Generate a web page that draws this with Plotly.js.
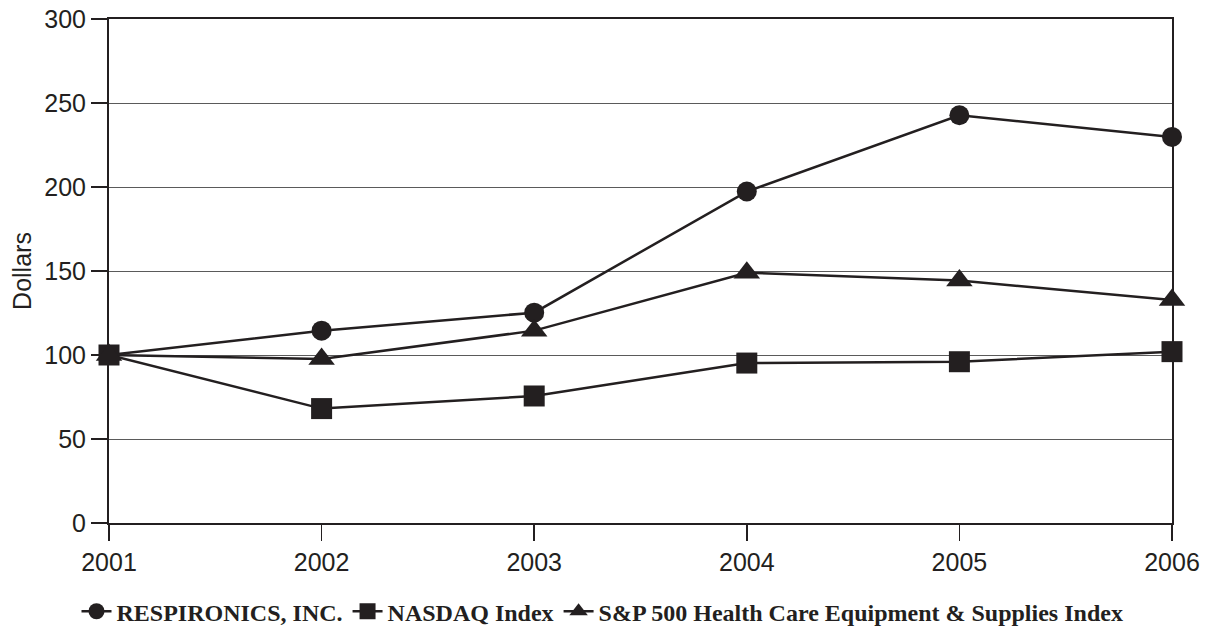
<!DOCTYPE html>
<html>
<head>
<meta charset="utf-8">
<script src="https://cdn.plot.ly/plotly-3.0.1.min.js"></script>
<style>html,body{margin:0;padding:0;background:#fff;}#chart{width:1205px;height:628px;}</style>
</head>
<body>
<div id="chart"></div>
<script>
const years = [2001, 2002, 2003, 2004, 2005, 2006];
const respironics = [100, 114.5, 125.2, 197.3, 242.7, 229.8];
const nasdaq = [100, 68.1, 75.6, 95.2, 96.0, 102.0];
const spHealth = [100, 97.6, 114.5, 149.0, 144.3, 132.7];
const seriesNames = ["RESPIRONICS, INC.", "NASDAQ Index", "S&P 500 Health Care Equipment & Supplies Index"];
const yTicks = [0, 50, 100, 150, 200, 250, 300];

const ink = '#231f20';
function trace(y, name, symbol, size) {
  return {
    x: years, y: y, name: name, type: 'scatter', mode: 'lines+markers',
    cliponaxis: false,
    line: {color: ink, width: 2.5},
    marker: {symbol: symbol, size: size, color: ink}
  };
}
const data = [
  trace(respironics, seriesNames[0], 'circle', 20),
  trace(nasdaq, seriesNames[1], 'square', 21),
  trace(spHealth, seriesNames[2], 'triangle-up', 23)
];
const layout = {
  width: 1205, height: 628,
  margin: {l: 109, r: 33, t: 19, b: 105},
  paper_bgcolor: '#fff', plot_bgcolor: '#fff',
  font: {family: 'Liberation Sans, Arial, sans-serif', color: ink, size: 25},
  showlegend: true,
  xaxis: {
    range: [2001, 2006], tickvals: years, ticktext: years.map(String),
    showgrid: false, zeroline: false,
    showline: true, linecolor: ink, linewidth: 2, mirror: true,
    ticks: 'outside', ticklen: 16, tickwidth: 1.5, tickcolor: ink,
    tickfont: {size: 25, color: ink}
  },
  yaxis: {
    range: [0, 300], tickvals: yTicks, ticktext: yTicks.map(String),
    showgrid: true, gridcolor: '#5a5a5a', gridwidth: 1, zeroline: false,
    showline: true, linecolor: ink, linewidth: 2, mirror: true,
    ticks: 'outside', ticklen: 16, tickwidth: 1.5, tickcolor: ink,
    tickfont: {size: 25, color: ink},
    title: {text: 'Dollars', font: {size: 25, color: ink}, standoff: 6}
  },
  legend: {
    orientation: 'h', xref: 'container', yref: 'container',
    x: 0.5, xanchor: 'center', y: 0.026, yanchor: 'middle',
    font: {family: 'Liberation Serif, Times New Roman, serif', size: 24, weight: 'bold', color: ink},
    itemwidth: 30, tracegroupgap: 0
  }
};
Plotly.newPlot('chart', data, layout, {displayModeBar: false, staticPlot: true});
</script>
</body>
</html>
